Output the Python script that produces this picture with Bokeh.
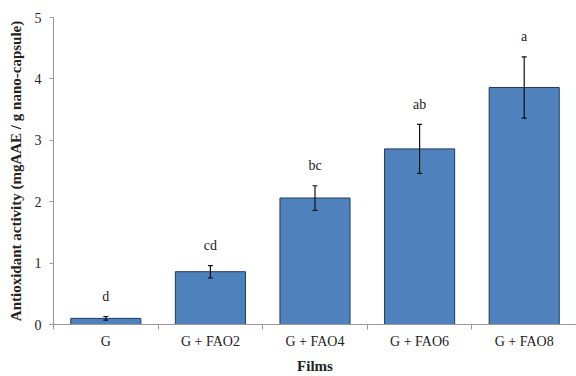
from bokeh.plotting import figure
from bokeh.models import ColumnDataSource, FixedTicker, Whisker, TeeHead, Range1d
from bokeh.core.properties import value
from bokeh.embed import file_html
from bokeh.resources import INLINE

categories = ["G", "G + FAO2", "G + FAO4", "G + FAO6", "G + FAO8"]
means = [0.10, 0.86, 2.06, 2.86, 3.86]
errors = [0.03, 0.10, 0.20, 0.40, 0.50]
letters = ["d", "cd", "bc", "ab", "a"]
y_ticks = [0, 1, 2, 3, 4, 5]
x_title = "Films"
y_title = "Antioxidant activity (mgAAE / g nano-capsule)"

xs = list(range(len(categories)))
src = ColumnDataSource(dict(
    x=xs, top=means,
    upper=[m + e for m, e in zip(means, errors)],
    lower=[m - e for m, e in zip(means, errors)],
    ly=[m + e + 0.33 for m, e in zip(means, errors)],
    letter=letters,
))

FONT = "Liberation Serif"
TXT = "#222222"

p = figure(width=576, height=376, output_backend="svg", toolbar_location=None,
           x_range=Range1d(-0.5, 4.5), y_range=Range1d(0, 5),
           min_border_left=53, min_border_right=0, min_border_top=17, min_border_bottom=52)
p.outline_line_color = None
p.xgrid.visible = False
p.ygrid.visible = False

p.vbar(x="x", top="top", width=0.67, bottom=0, source=src,
       fill_color="#4F81BD", line_color="#1F3A5F", line_width=1)

w = Whisker(base="x", upper="upper", lower="lower", source=src, level="annotation",
            line_color="#111111", line_width=1.2,
            upper_head=TeeHead(size=5, line_color="#111111", line_width=1.2),
            lower_head=TeeHead(size=5, line_color="#111111", line_width=1.2))
p.add_layout(w)

p.text(x="x", y="ly", text="letter", source=src, text_align="center",
       text_baseline="middle", text_font=value(FONT), text_font_size="14px",
       text_color=TXT)

# x axis
p.xaxis.ticker = FixedTicker(ticks=xs, minor_ticks=[i - 0.5 for i in range(len(categories) + 1)])
p.xaxis.major_label_overrides = {i: c for i, c in enumerate(categories)}
p.xaxis.major_tick_out = 0
p.xaxis.major_tick_in = 0
p.xaxis.minor_tick_out = 5
p.xaxis.minor_tick_in = 0
p.xaxis.minor_tick_line_color = "#999999"
p.xaxis.axis_line_color = "#999999"
p.xaxis.major_label_text_font = FONT
p.xaxis.major_label_text_font_size = "14px"
p.xaxis.major_label_text_color = TXT
p.xaxis.major_label_standoff = 4
p.xaxis.axis_label = x_title
p.xaxis.axis_label_text_font = FONT
p.xaxis.axis_label_text_font_style = "bold"
p.xaxis.axis_label_text_font_size = "15px"
p.xaxis.axis_label_text_color = TXT
p.xaxis.axis_label_standoff = 6

# y axis
p.yaxis.ticker = FixedTicker(ticks=y_ticks, minor_ticks=[])
p.yaxis.major_tick_out = 4
p.yaxis.major_tick_in = 0
p.yaxis.major_tick_line_color = "#999999"
p.yaxis.axis_line_color = "#999999"
p.yaxis.major_label_text_font = FONT
p.yaxis.major_label_text_font_size = "14px"
p.yaxis.major_label_text_color = TXT
p.yaxis.major_label_standoff = 8
p.yaxis.axis_label = y_title
p.yaxis.axis_label_text_font = FONT
p.yaxis.axis_label_text_font_style = "bold"
p.yaxis.axis_label_text_font_size = "15px"
p.yaxis.axis_label_text_color = TXT
p.yaxis.axis_label_standoff = 8

open("out.html", "w").write(file_html(p, INLINE))
